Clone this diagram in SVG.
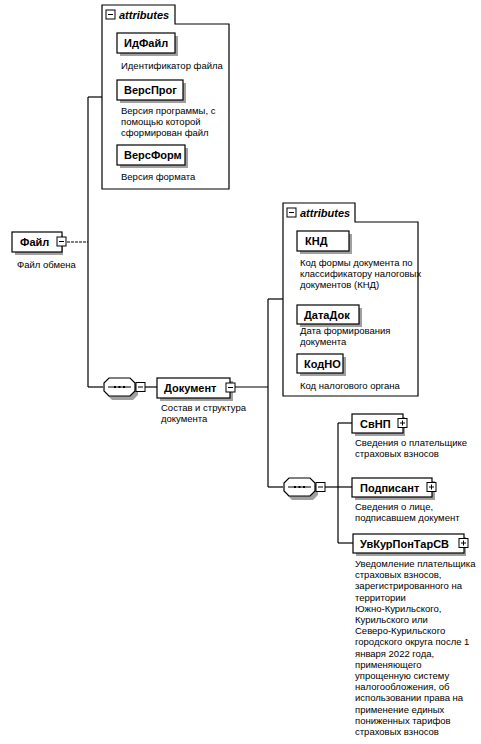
<svg xmlns="http://www.w3.org/2000/svg" width="481" height="744" viewBox="0 0 481 744">
<style>
.lbl{font-family:"Liberation Sans",Arial,sans-serif;font-size:11px;font-weight:bold;fill:#000}
.desc{font-family:"Liberation Sans",Arial,sans-serif;font-size:9.5px;fill:#000}
.att{font-family:"Liberation Sans",Arial,sans-serif;font-size:11px;font-weight:bold;font-style:italic;fill:#000}
.box{fill:#fff;stroke:#000;stroke-width:1.2}
.shd{fill:#a0a0a0}
.ln{stroke:#000;stroke-width:1.2;fill:none}
.cont{fill:#fff;stroke:#000;stroke-width:1.2}
.pm{fill:#fff;stroke:#000;stroke-width:1}
</style>
<defs>
<g id="minus"><rect class="pm" x="0" y="0" width="9" height="9"/><line x1="2" y1="4.5" x2="7" y2="4.5" stroke="#000" stroke-width="1"/></g>
<g id="plus"><rect class="pm" x="0" y="0" width="9" height="9"/><line x1="2" y1="4.5" x2="7" y2="4.5" stroke="#000" stroke-width="1"/><line x1="4.5" y1="2" x2="4.5" y2="7" stroke="#000" stroke-width="1"/></g>
<g id="seq">
<polygon class="shd" points="9,3 30,3 35,8 35,17 30,22 9,22 4,17 4,8"/>
<polygon class="box" points="6,0 27,0 32,5 32,13 27,18 6,18 1,13 1,5"/>
<line x1="5" y1="9" x2="28" y2="9" stroke="#000" stroke-width="1"/>
<rect x="11" y="8" width="2" height="2" fill="#000"/><rect x="15.5" y="8" width="2" height="2" fill="#000"/><rect x="20" y="8" width="2" height="2" fill="#000"/>
</g>
</defs>

<g id="connectors">
<line class="ln" x1="67" y1="242" x2="88" y2="242" stroke-dasharray="3,1" stroke-width="0.8"/>
<line class="ln" x1="88" y1="97" x2="88" y2="387"/>
<line class="ln" x1="88" y1="97" x2="102" y2="97"/>
<line class="ln" x1="88" y1="387" x2="103" y2="387"/>
<line class="ln" x1="145" y1="387" x2="157" y2="387"/>
<line class="ln" x1="235" y1="387" x2="268" y2="387"/>
<line class="ln" x1="268" y1="299" x2="268" y2="487"/>
<line class="ln" x1="268" y1="299" x2="283" y2="299"/>
<line class="ln" x1="268" y1="487" x2="283" y2="487"/>
<line class="ln" x1="325" y1="487" x2="352" y2="487"/>
<line class="ln" x1="338" y1="423" x2="338" y2="543"/>
<line class="ln" x1="338" y1="423" x2="352" y2="423"/>
<line class="ln" x1="338" y1="543" x2="353" y2="543"/>
</g>

<g id="attributes1">
<polygon class="cont" points="102,5 175,5 175,24 229,24 229,189 102,189"/>
<use href="#minus" x="106" y="10"/>
<text class="att" x="119" y="19">attributes</text>
</g>

<g id="ИдФайл">
<rect class="shd" x="120" y="36" width="58" height="20"/>
<rect class="box" x="117" y="33" width="58" height="20"/>
<text class="lbl" x="124" y="47">ИдФайл</text>
<text class="desc" x="121" y="69">Идентификатор файла</text>
</g>

<g id="ВерсПрог">
<rect class="shd" x="120" y="83" width="66" height="20"/>
<rect class="box" x="117" y="80" width="66" height="20"/>
<text class="lbl" x="124" y="94">ВерсПрог</text>
<text class="desc" x="121" y="114">Версия программы, с</text>
<text class="desc" x="121" y="125">помощью которой</text>
<text class="desc" x="121" y="136">сформирован файл</text>
</g>

<g id="ВерсФорм">
<rect class="shd" x="120" y="148" width="68" height="20"/>
<rect class="box" x="117" y="145" width="68" height="20"/>
<text class="lbl" x="124" y="159">ВерсФорм</text>
<text class="desc" x="121" y="180">Версия формата</text>
</g>

<g id="Файл">
<rect class="shd" x="15" y="235" width="48" height="20"/>
<rect class="box" x="12" y="232" width="50" height="20"/>
<text class="lbl" x="20" y="246">Файл</text>
<use href="#minus" x="57" y="237"/>
<text class="desc" x="17" y="268">Файл обмена</text>
</g>

<g id="sequence1">
<use href="#seq" x="103" y="378"/>
<use href="#minus" x="136" y="382.5"/>
</g>

<g id="Документ">
<rect class="shd" x="160" y="381" width="73" height="20"/>
<rect class="box" x="157" y="378" width="73" height="20"/>
<text class="lbl" x="164" y="392">Документ</text>
<use href="#minus" x="226" y="383"/>
<text class="desc" x="161" y="411">Состав и структура</text>
<text class="desc" x="161" y="422">документа</text>
</g>

<g id="attributes2">
<polygon class="cont" points="283,203 355,203 355,222 418,222 418,396 283,396"/>
<use href="#minus" x="287" y="208"/>
<text class="att" x="300" y="217">attributes</text>
</g>

<g id="КНД">
<rect class="shd" x="300" y="234" width="52" height="20"/>
<rect class="box" x="297" y="231" width="52" height="20"/>
<text class="lbl" x="305" y="245">КНД</text>
<text class="desc" x="300" y="266">Код формы документа по</text>
<text class="desc" x="300" y="277">классификатору налоговых</text>
<text class="desc" x="300" y="288">документов (КНД)</text>
</g>

<g id="ДатаДок">
<rect class="shd" x="300" y="308" width="62" height="19"/>
<rect class="box" x="297" y="305" width="62" height="19"/>
<text class="lbl" x="304" y="319">ДатаДок</text>
<text class="desc" x="300" y="334">Дата формирования</text>
<text class="desc" x="300" y="345">документа</text>
</g>

<g id="КодНО">
<rect class="shd" x="300" y="357" width="46" height="19"/>
<rect class="box" x="297" y="354" width="46" height="19"/>
<text class="lbl" x="304" y="368">КодНО</text>
<text class="desc" x="300" y="389">Код налогового органа</text>
</g>

<g id="sequence2">
<use href="#seq" x="283" y="478"/>
<use href="#minus" x="316" y="482.5"/>
</g>

<g id="СвНП">
<rect class="shd" x="355" y="417" width="50" height="19"/>
<rect class="box" x="352" y="414" width="51" height="19"/>
<text class="lbl" x="360" y="428">СвНП</text>
<use href="#plus" x="398" y="418.5"/>
<text class="desc" x="355" y="446">Сведения о плательщике</text>
<text class="desc" x="355" y="457">страховых взносов</text>
</g>

<g id="Подписант">
<rect class="shd" x="355" y="481" width="80" height="19"/>
<rect class="box" x="352" y="478" width="80" height="19"/>
<text class="lbl" x="360" y="492">Подписант</text>
<use href="#plus" x="427" y="482.5"/>
<text class="desc" x="355" y="510">Сведения о лице,</text>
<text class="desc" x="355" y="521">подписавшем документ</text>
</g>

<g id="УвКурПонТарСВ">
<rect class="shd" x="356" y="537" width="110" height="19"/>
<rect class="box" x="353" y="534" width="111" height="19"/>
<text class="lbl" x="360" y="548">УвКурПонТарСВ</text>
<use href="#plus" x="459" y="538.5"/>
<text class="desc" x="355" y="567">Уведомление плательщика</text>
<text class="desc" x="355" y="578.2">страховых взносов,</text>
<text class="desc" x="355" y="589.4">зарегистрированного на</text>
<text class="desc" x="355" y="600.6">территории</text>
<text class="desc" x="355" y="611.8">Южно-Курильского,</text>
<text class="desc" x="355" y="623">Курильского или</text>
<text class="desc" x="355" y="634.2">Северо-Курильского</text>
<text class="desc" x="355" y="645.4">городского округа после 1</text>
<text class="desc" x="355" y="656.6">января 2022 года,</text>
<text class="desc" x="355" y="667.8">применяющего</text>
<text class="desc" x="355" y="679">упрощенную систему</text>
<text class="desc" x="355" y="690.2">налогообложения, об</text>
<text class="desc" x="355" y="701.4">использовании права на</text>
<text class="desc" x="355" y="712.6">применение единых</text>
<text class="desc" x="355" y="723.8">пониженных тарифов</text>
<text class="desc" x="355" y="735">страховых взносов</text>
</g>
</svg>
